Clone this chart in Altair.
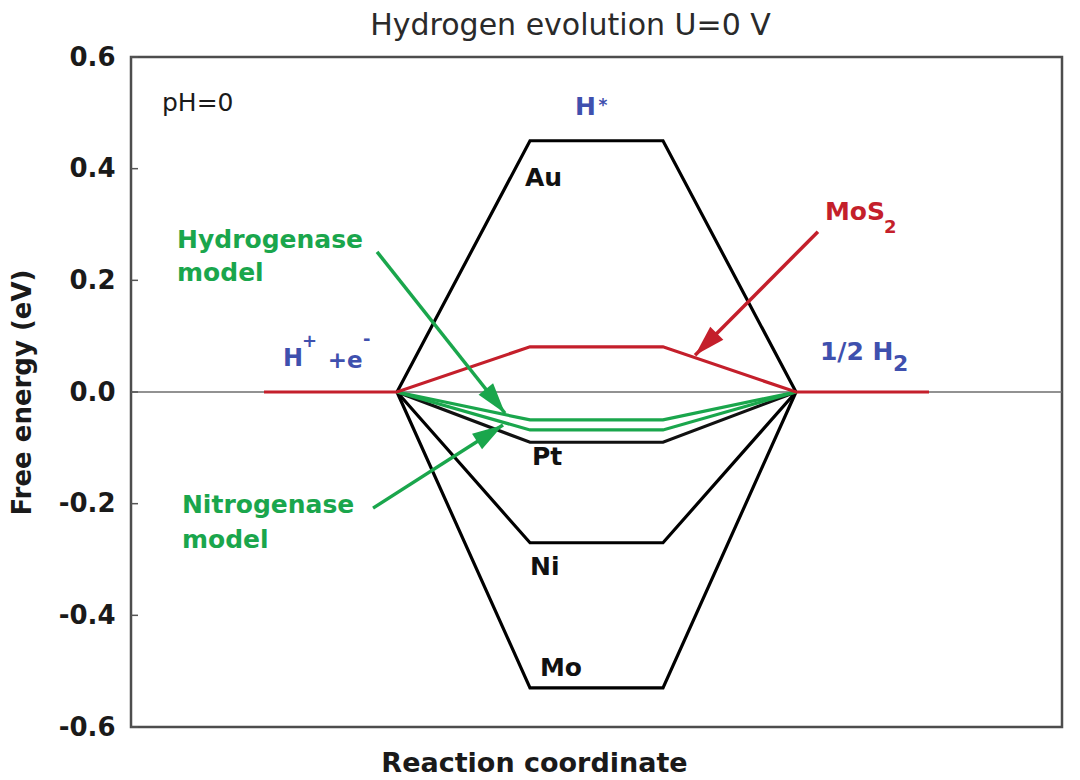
import altair as alt
import numpy as np
import pandas as pd

# ---------------- data ----------------
steps = [2, 3, 4, 5]                      # H+ +e-  ->  H*  ->  1/2 H2 (reaction coordinate)
au = [0.0, 0.45, 0.45, 0.0]
ni = [0.0, -0.27, -0.27, 0.0]
mo = [0.0, -0.53, -0.53, 0.0]
pt = [0.0, -0.09, -0.09, 0.0]
hydrogenase = [0.0, -0.05, -0.05, 0.0]
nitrogenase = [0.0, -0.068, -0.068, 0.0]
mos2_steps = [1, 2, 3, 4, 5, 6]
mos2 = [0.0, 0.0, 0.081, 0.081, 0.0, 0.0]

y_ticks = [-0.6, -0.4, -0.2, 0.0, 0.2, 0.4, 0.6]

# annotation labels (bold)
lab_text = ["Au", "Pt", "Ni", "Mo", "Hydrogenase", "model", "Nitrogenase", "model",
            "MoS", "2", "H", "*", "H", "+", "+e", "-", "1/2 H", "2"]
lab_x = [2.962, 3.015, 3.0, 3.075, 0.346, 0.346, 0.383, 0.383,
         5.218, 5.662, 3.338, 3.515, 1.143, 1.285, 1.48, 1.745, 5.180, 5.729]
lab_y = [0.384, -0.116, -0.314, -0.495, 0.272, 0.213, -0.203, -0.265,
         0.323, 0.294, 0.511, 0.512, 0.059, 0.090, 0.056, 0.094, 0.072, 0.050]
lab_color = ["#111111", "#111111", "#111111", "#111111", "#1aa64c", "#1aa64c", "#1aa64c", "#1aa64c",
             "#c41f2b", "#c41f2b", "#3f50ae", "#3f50ae", "#3f50ae", "#3f50ae", "#3f50ae", "#3f50ae",
             "#3f50ae", "#3f50ae"]
lab_size = [25, 25, 25, 25, 25, 25, 25, 25,
            25, 18, 25, 17, 24, 18, 23, 18, 25, 22]

# arrows (tail -> tip)
arr_name = ["Hydrogenase", "Nitrogenase", "MoS2"]
arr_x1 = [1.850, 1.820, 5.165]
arr_y1 = [0.251, -0.208, 0.287]
arr_x2 = [2.812, 2.797, 4.241]
arr_y2 = [-0.038, -0.059, 0.066]
arr_color = ["#1aa64c", "#1aa64c", "#c41f2b"]

# ---------------- layout constants ----------------
W, H = 931, 670
XDOM = [0, 7]
YDOM = [-0.6, 0.6]
FONT = "DejaVu Sans"

rows = []
for name, vals in [("Au", au), ("Ni", ni), ("Mo", mo), ("Pt", pt),
                   ("Hydrogenase", hydrogenase), ("Nitrogenase", nitrogenase)]:
    for i, (sx, v) in enumerate(zip(steps, vals)):
        rows.append({"series": name, "x": sx, "y": v, "o": i})
for i, (sx, v) in enumerate(zip(mos2_steps, mos2)):
    rows.append({"series": "MoS2", "x": sx, "y": v, "o": i})
lines_df = pd.DataFrame(rows)

series_dom = ["Au", "Ni", "Mo", "Pt", "Hydrogenase", "Nitrogenase", "MoS2"]
series_col = ["#000000", "#000000", "#000000", "#111111", "#1aa64c", "#1aa64c", "#c41f2b"]
series_w = [3.2, 3.2, 3.2, 2.0, 3.0, 3.0, 3.0]

labels_df = pd.DataFrame({"text": lab_text, "x": lab_x, "y": lab_y,
                          "color": lab_color, "size": lab_size})

px_x = W / (XDOM[1] - XDOM[0])
px_y = H / (YDOM[1] - YDOM[0])
dxp = (np.array(arr_x2) - np.array(arr_x1)) * px_x
dyp = -(np.array(arr_y2) - np.array(arr_y1)) * px_y
angles = (np.degrees(np.arctan2(dxp, -dyp)) + 360) % 360
arrows_df = pd.DataFrame({"name": arr_name, "x1": arr_x1, "y1": arr_y1,
                          "x2": arr_x2, "y2": arr_y2, "color": arr_color,
                          "angle": angles})

ticks_df = pd.DataFrame({"v": y_ticks})

xs = alt.Scale(domain=XDOM, nice=False, zero=False)
ys = alt.Scale(domain=YDOM, nice=False, zero=False)

x_axis = alt.Axis(title="Reaction coordinate", labels=False, ticks=False, domain=False, grid=False,
                  titleFont=FONT, titleFontSize=27, titleFontWeight="bold", titleColor="#1a1a1a",
                  titleX=403, titleY=36, titleBaseline="middle", titleAlign="center")
y_axis = alt.Axis(title="Free energy (eV)", values=y_ticks, ticks=False, domain=False, grid=False,
                  labelExpr="replace(format(datum.value, '.1f'), '\u2212', '-')",
                  labelFont=FONT, labelFontSize=26, labelFontWeight="bold", labelColor="#1a1a1a",
                  labelPadding=16,
                  titleFont=FONT, titleFontSize=26, titleFontWeight="bold", titleColor="#1a1a1a",
                  titleX=-109, titleY=H / 2, titleBaseline="middle", titleAlign="center", titleAngle=-90)

base_zero = alt.Chart(ticks_df).transform_filter("datum.v == 0").mark_rule(
    color="#6e6e6e", strokeWidth=1.6).encode(
    y=alt.Y("v:Q", scale=ys, axis=y_axis),
    x=alt.value(0), x2=alt.value(W))

tick_marks = alt.Chart(ticks_df).mark_rule(color="#555555", strokeWidth=1.5).encode(
    y=alt.Y("v:Q", scale=ys), x=alt.value(0), x2=alt.value(7))

line_layer = alt.Chart(lines_df).mark_line(strokeJoin="miter", strokeCap="butt").encode(
    x=alt.X("x:Q", scale=xs, axis=x_axis),
    y=alt.Y("y:Q", scale=ys),
    color=alt.Color("series:N", scale=alt.Scale(domain=series_dom, range=series_col), legend=None),
    strokeWidth=alt.StrokeWidth("series:N", scale=alt.Scale(domain=series_dom, range=series_w), legend=None),
    order="o:Q",
    detail="series:N")

arrow_shaft = alt.Chart(arrows_df).mark_rule(strokeWidth=3.5).encode(
    x=alt.X("x1:Q", scale=xs), y=alt.Y("y1:Q", scale=ys),
    x2="x2:Q", y2="y2:Q",
    color=alt.Color("color:N", scale=None))

arrow_head = alt.Chart(arrows_df).mark_point(
    shape="M0,0L0.6,2L-0.6,2Z", filled=True, size=950, opacity=1, strokeWidth=0).encode(
    x=alt.X("x2:Q", scale=xs), y=alt.Y("y2:Q", scale=ys),
    angle=alt.Angle("angle:Q", scale=None),
    color=alt.Color("color:N", scale=None))

label_layer = alt.Chart(labels_df).mark_text(
    font=FONT, fontWeight="bold", align="left", baseline="middle").encode(
    x=alt.X("x:Q", scale=xs), y=alt.Y("y:Q", scale=ys),
    text="text:N",
    color=alt.Color("color:N", scale=None),
    size=alt.Size("size:Q", scale=None))

ph_layer = alt.Chart(pd.DataFrame({"text": ["pH=0"], "x": [0.233], "y": [0.518]})).mark_text(
    font=FONT, fontWeight="normal", fontSize=25, align="left", baseline="middle", color="#1a1a1a").encode(
    x=alt.X("x:Q", scale=xs), y=alt.Y("y:Q", scale=ys), text="text:N")

chart = alt.layer(
    base_zero, tick_marks, line_layer, arrow_shaft, arrow_head, label_layer, ph_layer
).properties(
    width=W, height=H,
    title=alt.TitleParams("Hydrogen evolution U=0 V", font=FONT, fontSize=30, fontWeight="normal",
                          color="#2a2a2a", anchor="middle", dx=-26, offset=3),
    autosize=alt.AutoSizeParams(type="none"),
    padding={"left": 123, "top": 49, "right": 10, "bottom": 56},
    background="white",
).configure_view(stroke="#4d4d4d", strokeWidth=2.5)

chart.save("out.html", embed_options={"renderer": "svg", "actions": False})
